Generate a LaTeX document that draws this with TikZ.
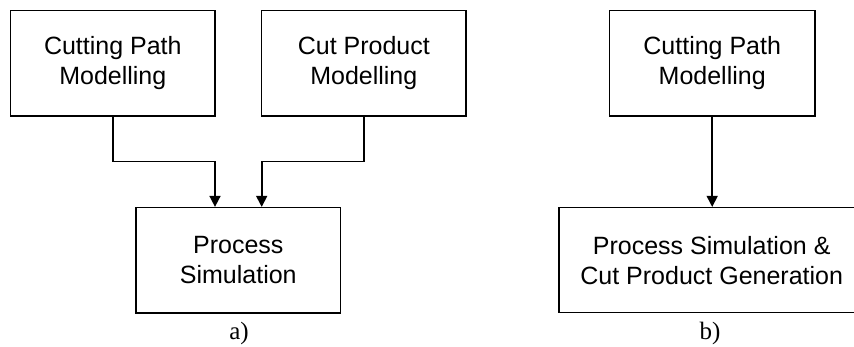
\documentclass[tikz,border=0pt]{standalone}
\usepackage{fontspec}
\setmainfont{Liberation Serif}
\newfontfamily\boxfont{Liberation Sans}
\usetikzlibrary{arrows.meta}
\tikzset{
  block/.style={draw, line width=1.6pt, inner sep=0pt, align=center,
    font=\boxfont\fontsize{25}{30}\selectfont},
  flow/.style={line width=1.6pt, -{Triangle[width=11pt,length=11pt]}},
  caption/.style={font=\fontsize{25}{28}\selectfont, inner sep=0pt}
}
\begin{document}
\begin{tikzpicture}[x=1pt, y=-1pt]
  \useasboundingbox (0,0) rectangle (854,347);
  \clip (0,0) rectangle (854,347);

  % panel a)
  \node[block, minimum width=204.5pt, minimum height=105.3pt] (cpm) at (112.8,63.3) {Cutting Path\\Modelling};
  \node[block, minimum width=204.5pt, minimum height=105.3pt] (cprod) at (363.8,63.3) {Cut Product\\Modelling};
  \node[block, minimum width=204.7pt, minimum height=105.6pt] (sim) at (238.3,260.5) {Process\\Simulation};
  \coordinate (ja) at (215,161.7);
  \coordinate (jb) at (261.7,161.7);
  \draw[flow] (cpm.south) |- (ja) -- (ja |- sim.north);
  \draw[flow] (cprod.south) |- (jb) -- (jb |- sim.north);
  \node[caption] (capa) at (239,333) {a)};

  % panel b)
  \node[block, minimum width=205.7pt, minimum height=105.3pt] (cpm2) at (712.2,63.3) {Cutting Path\\Modelling};
  \node[block, minimum width=305pt, minimum height=105pt] (gen) at (711.7,260.2) {Process Simulation \&\\Cut Product Generation};
  \draw[flow] (cpm2.south) -- (gen.north -| cpm2.south);
  \node[caption] (capb) at (710,333) {b)};
\end{tikzpicture}
\end{document}
